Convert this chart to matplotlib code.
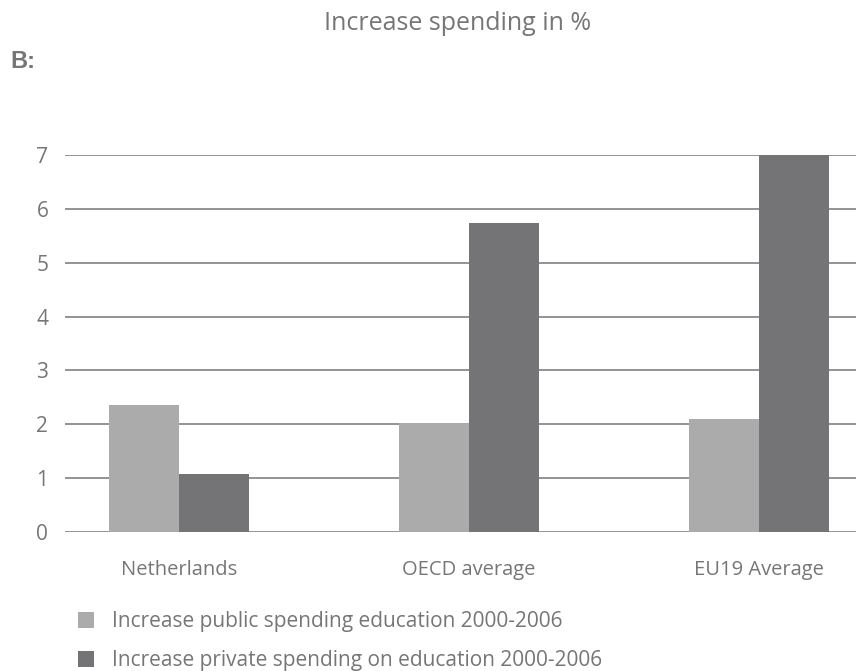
import matplotlib
matplotlib.use("Agg")
import matplotlib.pyplot as plt
import numpy as np
from matplotlib.patches import Patch

categories = ["Netherlands", "OECD average", "EU19 Average"]
public_spending = [2.35, 2.02, 2.1]
private_spending = [1.08, 5.73, 7.0]
series_labels = ["Increase public spending education 2000-2006",
                 "Increase private spending on education 2000-2006"]
yticks = [0, 1, 2, 3, 4, 5, 6, 7]

plt.rcParams['font.family'] = ['Open Sans', 'DejaVu Sans']
TXT = '#767676'
LIGHT = '#ababab'
DARK = '#747476'
GRID = '#8a8a8a'

fig = plt.figure(figsize=(8.56, 6.71), dpi=100)
ax = fig.add_axes([65/856, (671-532)/671, 1 - 65/856, (532-155)/671])

x = np.arange(len(categories))
w = 0.2414
ax.bar(x - w/2, public_spending, width=w, color=LIGHT, zorder=3)
ax.bar(x + w/2, private_spending, width=w, color=DARK, zorder=3)

ax.set_xlim(-(179-65)/290, (856-179)/290)
ax.set_ylim(0, 7)
ax.set_yticks(yticks)
ax.set_yticklabels([str(t) for t in yticks])
for t in yticks:
    ax.axhline(t, color=GRID, lw=1.3, zorder=1)

ax.set_xticks(x)
ax.set_xticklabels(categories)
for s in ax.spines.values():
    s.set_visible(False)
ax.tick_params(axis='both', length=0, colors=TXT)
ax.tick_params(axis='x', pad=20, labelsize=14.5)
ax.tick_params(axis='y', pad=12, labelsize=15)

fig.text(458/856, 1 - 23/671, "Increase spending in %", ha='center', va='center',
         color=TXT, fontsize=18)
fig.text(10/856, 1 - 61/671, "B:", ha='left', va='center', color=TXT,
         fontsize=17, fontweight='bold', family=['Liberation Sans', 'DejaVu Sans'])

handles = [Patch(facecolor=LIGHT, edgecolor='none'), Patch(facecolor=DARK, edgecolor='none')]
fig.legend(handles, series_labels, loc='upper left',
           bbox_to_anchor=(78/856, 1 - 611/671), frameon=False,
           fontsize=15, labelcolor=TXT, handlelength=0.77, handleheight=0.77,
           handletextpad=0.86, labelspacing=0.87, borderpad=0, borderaxespad=0)

fig.savefig("out.png", dpi=100)
